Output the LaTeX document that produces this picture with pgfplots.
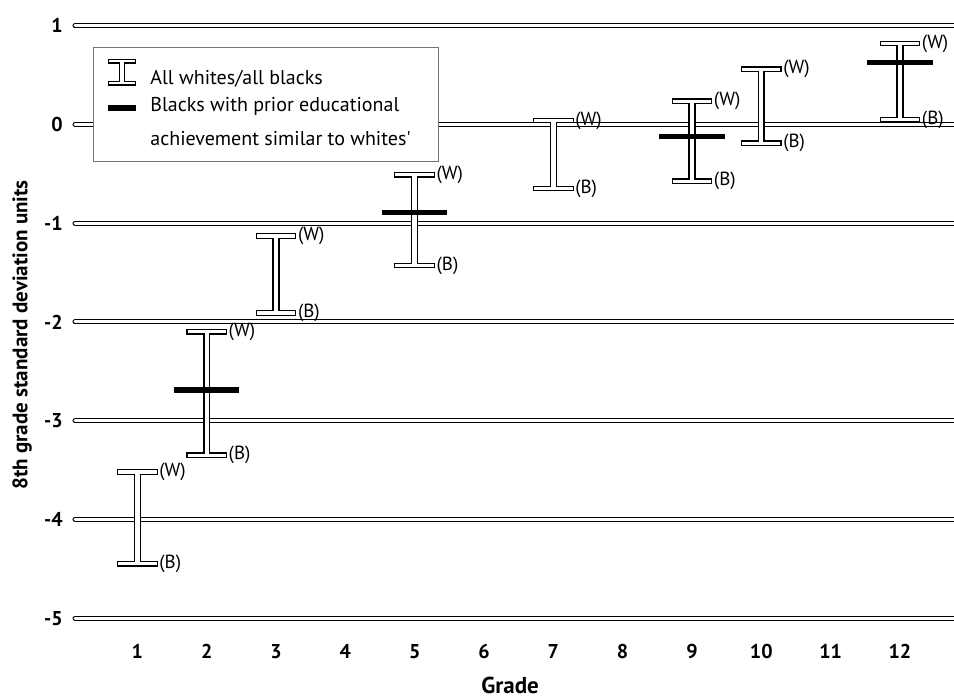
\documentclass[border=0pt]{standalone}
\usepackage{fontspec}
\setmainfont{PT Sans}
\usepackage{pgfplots}
\pgfplotsset{compat=1.18}
\usepackage{pgfplotstable}

% grade, all whites (W), all blacks (B)
\pgfplotstableread{
g  W      B
1  -3.52  -4.45
2  -2.10  -3.35
3  -1.13  -1.91
5  -0.51  -1.43
7   0.04  -0.65
9   0.235 -0.575
10  0.56  -0.19
12  0.82   0.05
}\beams

% blacks with prior achievement similar to whites'
\pgfplotstableread{
g  adj
2  -2.69
5  -0.89
9  -0.12
12  0.63
}\adjusted

\begin{document}
\begin{tikzpicture}
\begin{axis}[
    name=ax,
    width=439.5pt, height=316pt,
    scale only axis,
    xmin=0.1, xmax=12.78,
    ymin=-5.14, ymax=1.26,
    clip=false,
    axis line style={draw=none},
    tick style={draw=none},
    xtick={1,2,3,4,5,6,7,8,9,10,11,12},
    xticklabels={1,2,3,4,5,6,7,8,9,10,11,12},
    ytick={-5,-4,-3,-2,-1,0,1},
    yticklabels={-5,-4,-3,-2,-1,0,1},
    ymajorgrids,
    major grid style={black, line width=0.5pt, double=white, double distance=1.5pt, line cap=round},
    xticklabel style={font=\bfseries\fontsize{10}{12}\selectfont, anchor=base, inner sep=0pt, yshift=-13.5pt},
    yticklabel style={font=\bfseries\fontsize{10}{12}\selectfont, anchor=east, inner sep=0pt, xshift=-6pt},
    xlabel={Grade},
    ylabel={8th grade standard deviation units},
    every axis x label/.style={at={(rel axis cs:0.495,0)}, anchor=base, inner sep=0pt, yshift=-31pt,
        font=\bfseries\fontsize{11.5}{13}\selectfont},
    every axis y label/.style={at={(rel axis cs:0,0.47)}, xshift=-26.5pt, rotate=90, anchor=center, inner sep=0pt,
        font=\bfseries\fontsize{10.5}{12}\selectfont},
]

% I-beams: black outline pass, then white inner pass
\addplot[draw=none, mark=none,
    error bars/.cd, y dir=both, y explicit, error mark=|,
    error bar style={draw=black, line width=3.6pt},
    error mark options={draw=black, line width=2.8pt, mark size=8.8pt, line cap=rect}]
    table[x=g, y expr={(\thisrow{W}+\thisrow{B})/2}, y error expr={(\thisrow{W}-\thisrow{B})/2}] {\beams};
\addplot[draw=none, mark=none,
    error bars/.cd, y dir=both, y explicit, error mark=|,
    error bar style={draw=white, line width=2.2pt},
    error mark options={draw=white, line width=1.6pt, mark size=8.8pt, line cap=rect}]
    table[x=g, y expr={(\thisrow{W}+\thisrow{B})/2}, y error expr={(\thisrow{W}-\thisrow{B})/2}] {\beams};

% (W) and (B) labels
\addplot[draw=none, mark=none, nodes near coords={(W)},
    every node near coord/.append style={anchor=west, inner sep=0pt, xshift=10.8pt, font=\fontsize{9.5}{11}\selectfont}]
    table[x=g, y=W] {\beams};
\addplot[draw=none, mark=none, nodes near coords={(B)},
    every node near coord/.append style={anchor=west, inner sep=0pt, xshift=10.8pt, font=\fontsize{9.5}{11}\selectfont}]
    table[x=g, y=B] {\beams};

% adjusted blacks
\addplot[only marks, mark=-, mark size=16.3pt, mark options={black, line width=2.7pt}]
    table[x=g, y=adj] {\adjusted};

% legend
\node[draw=black!55, line width=0.4pt, fill=white, anchor=north west, inner sep=0pt,
      minimum width=172.5pt, minimum height=57.2pt] (leg) at (rel axis cs:0.0205,0.926) {};
\end{axis}

\draw[black, line width=2.4pt, line cap=rect]
    ([xshift=8.6pt, yshift=-7.2pt]leg.north west) -- ++(11.8pt,0)
    ([xshift=8.6pt, yshift=-18.2pt]leg.north west) -- ++(11.8pt,0);
\draw[black, line width=3.0pt]
    ([xshift=14.5pt, yshift=-7.2pt]leg.north west) -- ++(0,-11pt);
\draw[white, line width=1.3pt, line cap=rect]
    ([xshift=8.6pt, yshift=-7.2pt]leg.north west) -- ++(11.8pt,0)
    ([xshift=8.6pt, yshift=-18.2pt]leg.north west) -- ++(11.8pt,0);
\draw[white, line width=1.8pt]
    ([xshift=14.5pt, yshift=-7.2pt]leg.north west) -- ++(0,-11pt);
\draw[black, line width=2.7pt]
    ([xshift=7.5pt, yshift=-30.7pt]leg.north west) -- ++(14.2pt,0);
\node[anchor=base west, inner sep=0pt, font=\fontsize{10}{12}\selectfont]
    at ([xshift=28.5pt, yshift=-18.7pt]leg.north west) {All whites/all blacks};
\node[anchor=base west, inner sep=0pt, font=\fontsize{10}{12}\selectfont]
    at ([xshift=28.5pt, yshift=-32.5pt]leg.north west) {Blacks with prior educational};
\node[anchor=base west, inner sep=0pt, font=\fontsize{10}{12}\selectfont]
    at ([xshift=28.5pt, yshift=-49.2pt]leg.north west) {achievement similar to whites\textquotesingle};

\pgfresetboundingbox
\path[use as bounding box] ([xshift=-37.5pt, yshift=-33pt]ax.south west) rectangle (ax.north east);
\end{tikzpicture}
\end{document}
